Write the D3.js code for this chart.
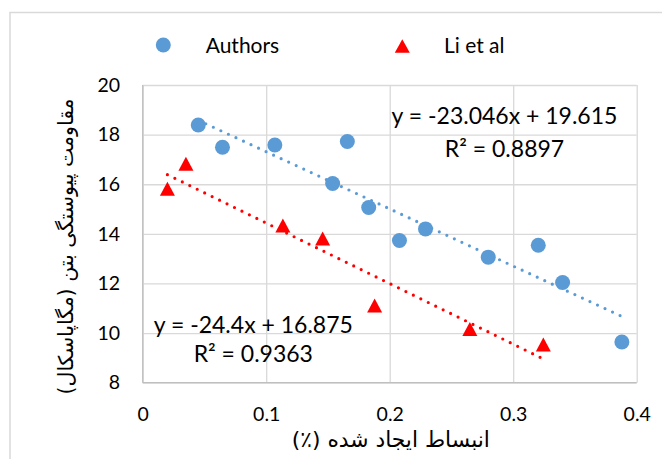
<!DOCTYPE html>
<html>
<head>
<meta charset="utf-8">
<script src="https://cdn.jsdelivr.net/npm/d3@7"></script>
<style>
  html, body { margin: 0; padding: 0; background: #ffffff; }
  svg { display: block; }
  .latin { font-family: Lato, "Open Sans", "Liberation Sans", sans-serif; fill: #000; }
  .fa { font-family: "DejaVu Sans", "Noto Sans", sans-serif; fill: #000; }
</style>
</head>
<body>
<svg id="chart" width="662" height="459"></svg>
<script>
// Bond strength vs. generated expansion
const authorsX = [0.045, 0.0646, 0.107, 0.1657, 0.1538, 0.183, 0.2079, 0.229, 0.2798, 0.3203, 0.340, 0.388];
const authorsY = [18.39, 17.49, 17.58, 17.72, 16.03, 15.06, 13.73, 14.20, 13.06, 13.54, 12.04, 9.64];
const liX = [0.020, 0.035, 0.1135, 0.1457, 0.1878, 0.2649, 0.3244];
const liY = [15.82, 16.83, 14.34, 13.81, 11.11, 10.16, 9.54];

const seriesNames = ["Authors", "Li et al"];
const trendSlopes = [-23.046, -24.4];
const trendIntercepts = [19.615, 16.875];
const trendR2 = ["0.8897", "0.9363"];

const xTickValues = [0, 0.1, 0.2, 0.3, 0.4];
const xTickLabels = ["0", "0.1", "0.2", "0.3", "0.4"];
const yTickValues = [8, 10, 12, 14, 16, 18, 20];

const xTitle = "انبساط ایجاد شده (٪)";
const yTitle = "مقاومت پیوستگی بتن (مگاپاسکال)";

const blue = "#5B9BD5", red = "#FF0000", grid = "#d9d9d9";

const svg = d3.select("#chart");

// outer chart frame
svg.append("rect")
  .attr("x", 10).attr("y", 12.5).attr("width", 700).attr("height", 500)
  .attr("fill", "none").attr("stroke", grid).attr("stroke-width", 1.5);

const plot = { left: 142.7, right: 636.7, top: 85, bottom: 382.7 };
const x = d3.scaleLinear().domain([0, 0.4]).range([plot.left, plot.right]);
const y = d3.scaleLinear().domain([8, 20]).range([plot.bottom, plot.top]);

// gridlines
svg.append("g")
  .attr("transform", `translate(0,${plot.bottom})`)
  .call(d3.axisBottom(x).tickValues(xTickValues).tickSize(-(plot.bottom - plot.top)).tickFormat(""))
  .call(g => g.select(".domain").remove())
  .call(g => g.selectAll("line").attr("stroke", grid).attr("stroke-width", 1.3));
svg.append("g")
  .attr("transform", `translate(${plot.left},0)`)
  .call(d3.axisLeft(y).tickValues(yTickValues).tickSize(-(plot.right - plot.left)).tickFormat(""))
  .call(g => g.select(".domain").remove())
  .call(g => g.selectAll("line").attr("stroke", grid).attr("stroke-width", 1.3));

// axis lines
svg.append("line").attr("x1", plot.left).attr("x2", plot.left).attr("y1", plot.top).attr("y2", plot.bottom)
  .attr("stroke", "#bfbfbf").attr("stroke-width", 1.3);
svg.append("line").attr("x1", plot.left).attr("x2", plot.right).attr("y1", plot.bottom).attr("y2", plot.bottom)
  .attr("stroke", "#bfbfbf").attr("stroke-width", 1.3);

// tick labels
const xAxis = svg.append("g")
  .attr("transform", `translate(0,${plot.bottom})`)
  .call(d3.axisBottom(x).tickValues(xTickValues).tickSize(0).tickPadding(24.5)
    .tickFormat((d, i) => xTickLabels[i]));
xAxis.select(".domain").remove();
xAxis.selectAll("text").attr("class", "latin").style("font-size", "19.5px");

const yAxis = svg.append("g")
  .attr("transform", `translate(${plot.left},0)`)
  .call(d3.axisLeft(y).tickValues(yTickValues).tickSize(0).tickPadding(22.7).tickFormat(d3.format("d")));
yAxis.select(".domain").remove();
yAxis.selectAll("text").attr("class", "latin").style("font-size", "19.5px");

// trendlines (from the stated fit equations)
const trendX = [[d3.min(authorsX), d3.max(authorsX)], [d3.min(liX), d3.max(liX)]];
[blue, red].forEach((c, i) => {
  const [x0, x1] = trendX[i];
  svg.append("line")
    .attr("x1", x(x0)).attr("y1", y(trendSlopes[i] * x0 + trendIntercepts[i]))
    .attr("x2", x(x1)).attr("y2", y(trendSlopes[i] * x1 + trendIntercepts[i]))
    .attr("stroke", c).attr("stroke-width", 3.2)
    .attr("stroke-linecap", "round").attr("stroke-dasharray", "0 8.3");
});

// markers
const tri = (cx, cy, w, h) => `M${cx},${cy - h / 2}L${cx + w / 2},${cy + h / 2}L${cx - w / 2},${cy + h / 2}Z`;

svg.append("g").selectAll("circle")
  .data(authorsX.map((v, i) => [v, authorsY[i]]))
  .join("circle")
  .attr("cx", d => x(d[0])).attr("cy", d => y(d[1])).attr("r", 7.5)
  .attr("fill", blue);

svg.append("g").selectAll("path")
  .data(liX.map((v, i) => [v, liY[i]]))
  .join("path")
  .attr("d", d => tri(x(d[0]), y(d[1]), 15, 14))
  .attr("fill", red);

// fit equations
const eqPos = [[504.5, 124, 156.7], [253.3, 332.7, 361.7]];
eqPos.forEach((p, i) => {
  const sign = trendIntercepts[i] >= 0 ? "+" : "-";
  svg.append("text").attr("class", "latin").attr("x", p[0]).attr("y", p[1])
    .attr("text-anchor", "middle").style("font-size", "23px")
    .text(`y = ${trendSlopes[i]}x ${sign} ${Math.abs(trendIntercepts[i]).toFixed(3)}`);
  svg.append("text").attr("class", "latin").attr("x", p[0]).attr("y", p[2])
    .attr("text-anchor", "middle").style("font-size", "23px")
    .text(`R² = ${trendR2[i]}`);
});

// legend
svg.append("circle").attr("cx", 163.3).attr("cy", 45).attr("r", 7.5).attr("fill", blue);
svg.append("path").attr("d", tri(402.3, 46, 15, 13.5)).attr("fill", red);
svg.append("text").attr("class", "latin").attr("x", 205.7).attr("y", 53.3).style("font-size", "21px").text(seriesNames[0]);
svg.append("text").attr("class", "latin").attr("x", 444).attr("y", 53.3).style("font-size", "21px").text(seriesNames[1]);

// axis titles
svg.append("text").attr("class", "fa").attr("direction", "rtl")
  .attr("x", 390.8).attr("y", 447)
  .attr("text-anchor", "middle").style("font-size", "21.8px").text(xTitle);
svg.append("text").attr("class", "fa").attr("direction", "rtl")
  .attr("transform", `translate(73,246.5) rotate(-90)`)
  .attr("text-anchor", "middle").style("font-size", "20.5px").text(yTitle);
</script>
</body>
</html>
